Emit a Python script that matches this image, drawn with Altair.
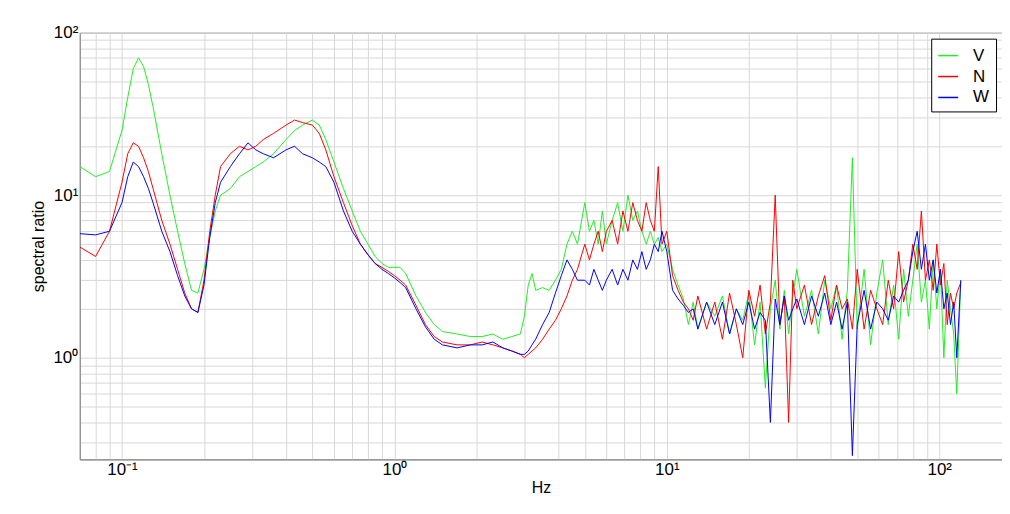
import altair as alt
import pandas as pd

FREQ = [
    0.07, 0.08, 0.09, 0.1, 0.105, 0.11, 0.115, 0.12, 0.125, 0.13, 0.14, 0.15, 0.16, 0.17, 0.18, 0.19, 0.2, 0.21,
    0.22, 0.23, 0.25, 0.27, 0.29, 0.31, 0.33, 0.36, 0.4, 0.43, 0.46, 0.5, 0.53, 0.56, 0.6, 0.65, 0.7, 0.75, 0.8,
    0.85, 0.9, 0.95, 1.0,
    1.05, 1.1, 1.2, 1.3, 1.4, 1.5, 1.7, 1.9, 2.1, 2.3, 2.5, 2.7, 2.9, 3.0,
    3.1, 3.2, 3.3, 3.5, 3.7, 3.9, 4.1, 4.3, 4.5, 4.7, 5.0, 5.2, 5.4, 5.6, 5.8, 6.0, 6.3, 6.6, 6.9, 7.2, 7.5, 7.8,
    8.1, 8.4, 8.7, 9.0, 9.3, 9.6, 10,
    10.5, 11, 11.5, 12, 12.5, 13, 14, 15, 16, 17, 18, 19, 20, 21, 22, 23, 24, 25, 26, 27, 28, 29, 30, 32, 34, 36,
    38, 40, 42, 44, 46, 48, 50, 53, 56, 59, 62, 65, 68, 71, 74, 77, 80, 83, 86, 89, 92, 95, 98, 101, 104, 107,
    110, 113, 116, 120,
]

V = [
    15, 13, 14, 25, 40, 60, 70, 62, 48, 35, 18, 10, 6, 3.8, 2.6, 2.5, 3.5, 5.5, 8, 10, 11, 13, 14, 15, 16, 18, 22,
    25, 27, 29, 27, 22, 16, 11, 8, 6, 5, 4.2, 3.8, 3.6, 3.6,
    3.6, 3.3, 2.4, 1.9, 1.6, 1.45, 1.4, 1.35, 1.35, 1.4, 1.3, 1.35, 1.4, 1.8,
    2.8, 3.3, 2.6, 2.7, 2.6, 3.0, 3.5, 5, 6, 5, 9, 6, 7, 5, 8, 5, 7, 9, 6, 10, 7, 8, 6, 5, 6, 5, 5.5, 4.5, 5,
    3.5, 2.8, 2.3, 1.6, 2.2, 1.5, 2.2, 1.8, 2.4, 1.4, 2.0, 1.7, 2.5, 1.2, 2.2, 0.65, 2.0, 3.0, 1.5, 2.6, 1.4, 2.4,
    3.5, 1.8, 2.6, 1.4, 3.0, 2.0, 2.8, 1.3, 2.6, 17, 1.5, 3.5, 1.2, 2.5, 4, 1.6, 2.8, 1.3, 3.5, 1.8, 3.0, 5, 2.2,
    3.0, 1.5, 4, 2.0, 3.5, 1.0, 3.0, 2.0, 1.4, 0.6, 3.0,
]
N = [
    4.8, 4.2, 6, 12, 18, 21, 20, 17, 14, 11, 7, 5, 3.5, 2.5, 2, 1.9, 3, 6, 10, 15, 18, 20, 19, 20, 22, 24, 27, 29,
    28, 27, 24, 19, 13, 9, 6.5, 5, 4.3, 3.8, 3.6, 3.4, 3.2,
    3.0, 2.8, 2.1, 1.6, 1.35, 1.25, 1.2, 1.2, 1.25, 1.2, 1.15, 1.1, 1.05, 1.0,
    1.05, 1.1, 1.15, 1.3, 1.5, 1.7, 2.0, 2.4, 3.0, 3.5, 5, 4, 5, 6, 4.5, 6, 7, 5, 8, 6, 9, 7, 6, 9, 7, 6, 15, 5, 6,
    3.2, 2.6, 2.2, 2.0, 1.7, 2.4, 1.5, 2.2, 1.3, 2.5, 1.6, 1.0, 2.6, 1.8, 2.8, 1.4, 2.2, 10, 1.6, 2.4, 0.4, 3.0,
    2.0, 2.8, 1.6, 2.4, 3.2, 1.7, 2.8, 2.0, 2.3, 1.5, 3.5, 1.5, 2.6, 2.0, 1.6, 3.0, 2.0, 4.5, 2.2, 3.0, 5.0, 3.5,
    8, 3.0, 4, 2.6, 5, 2.8, 3.8, 1.6, 2.5, 2.0, 2.5, 2.9,
]
W = [
    5.8, 5.7, 6, 9, 13, 16, 15, 13, 11, 9, 6, 4.5, 3.2, 2.4, 2.0, 1.9, 2.8, 5.5, 9, 12, 15, 18, 21, 19, 18, 17, 19,
    20, 18, 17, 16, 15, 12, 8, 6, 5, 4.3, 3.8, 3.5, 3.3, 3.1,
    2.9, 2.7, 2.0, 1.55, 1.3, 1.2, 1.15, 1.2, 1.2, 1.25, 1.15, 1.1, 1.05, 1.05,
    1.1, 1.2, 1.3, 1.6, 1.9, 2.5, 3.2, 4, 3.5, 3.0, 3.0, 2.8, 3.5, 3.0, 2.6, 3.0, 3.5, 2.8, 3.5, 3.0, 4, 3.5, 4.5,
    3.5, 4, 5, 4.5, 6, 4.5,
    2.6, 2.3, 2.1, 1.9, 2.0, 1.5, 2.2, 1.6, 2.2, 1.4, 2.0, 1.6, 2.2, 1.5, 1.9, 1.7, 0.4, 2.3, 1.6, 2.4, 1.7, 2.0,
    2.3, 1.6, 2.4, 1.8, 2.5, 1.6, 2.2, 1.5, 2.2, 0.25, 1.6, 2.6, 1.5, 2.2, 2.0, 1.7, 2.4, 2.2, 2.6, 3, 4.5, 6, 3.5,
    5, 3, 4, 2.5, 3.5, 2, 2.5, 1.6, 2.2, 1.0, 3.0,
]

SERIES = ["V", "N", "W"]
COLORS = ["#22ee22", "#ff0000", "#0000ff"]

frames = []
for name, vals in zip(SERIES, [V, N, W]):
    frames.append(pd.DataFrame({"f": FREQ, "r": vals, "s": name}))
data = pd.concat(frames)

x_ticks = [m * 10 ** e for e in range(-2, 3) for m in range(1, 10)]
x_ticks = [t for t in x_ticks if 0.07 <= t <= 170]
y_ticks = [m * 10 ** e for e in range(-1, 2) for m in range(1, 10)] + [100]
y_ticks = [t for t in y_ticks if 0.237 <= t <= 100]

label_expr = ("abs(datum.value-0.1)<1e-9 ? '10⁻¹' : abs(datum.value-1)<1e-9 ? '10⁰' : "
              "abs(datum.value-10)<1e-9 ? '10¹' : abs(datum.value-100)<1e-9 ? '10²' : ''")

axis_style = dict(labelExpr=label_expr, ticks=False, gridColor="#d8d8d8", labelFontSize=17,
                  titleFontSize=16, titleFontWeight="normal", labelColor="#000", titleColor="#000",
                  domainColor="#888", labelFlush=False)

chart = alt.Chart(data).mark_line(strokeWidth=1, clip=True).encode(
    x=alt.X("f:Q", title="Hz",
            scale=alt.Scale(type="log", domain=[0.07, 170], nice=False),
            axis=alt.Axis(values=x_ticks, titlePadding=2, **axis_style)),
    y=alt.Y("r:Q", title="spectral ratio",
            scale=alt.Scale(type="log", domain=[0.237, 100], nice=False),
            axis=alt.Axis(values=y_ticks, titlePadding=6, **axis_style)),
    color=alt.Color("s:N", sort=SERIES, scale=alt.Scale(domain=SERIES, range=COLORS),
                    legend=alt.Legend(title=None, orient="top-right", offset=6, symbolType="stroke",
                                      symbolStrokeWidth=1.5, labelFontSize=17, strokeColor="#000",
                                      fillColor="#fff", padding=6, labelOffset=14, symbolSize=400)),
    order=alt.Order("f:Q"),
).properties(
    width=925, height=428,
    autosize=alt.AutoSizeParams(type="none"),
    padding={"left": 72, "top": 24, "right": 0, "bottom": 40},
).configure(font="Arial").configure_view(stroke="#888")

chart.save("out.html", embed_options={"renderer": "svg", "actions": False})
